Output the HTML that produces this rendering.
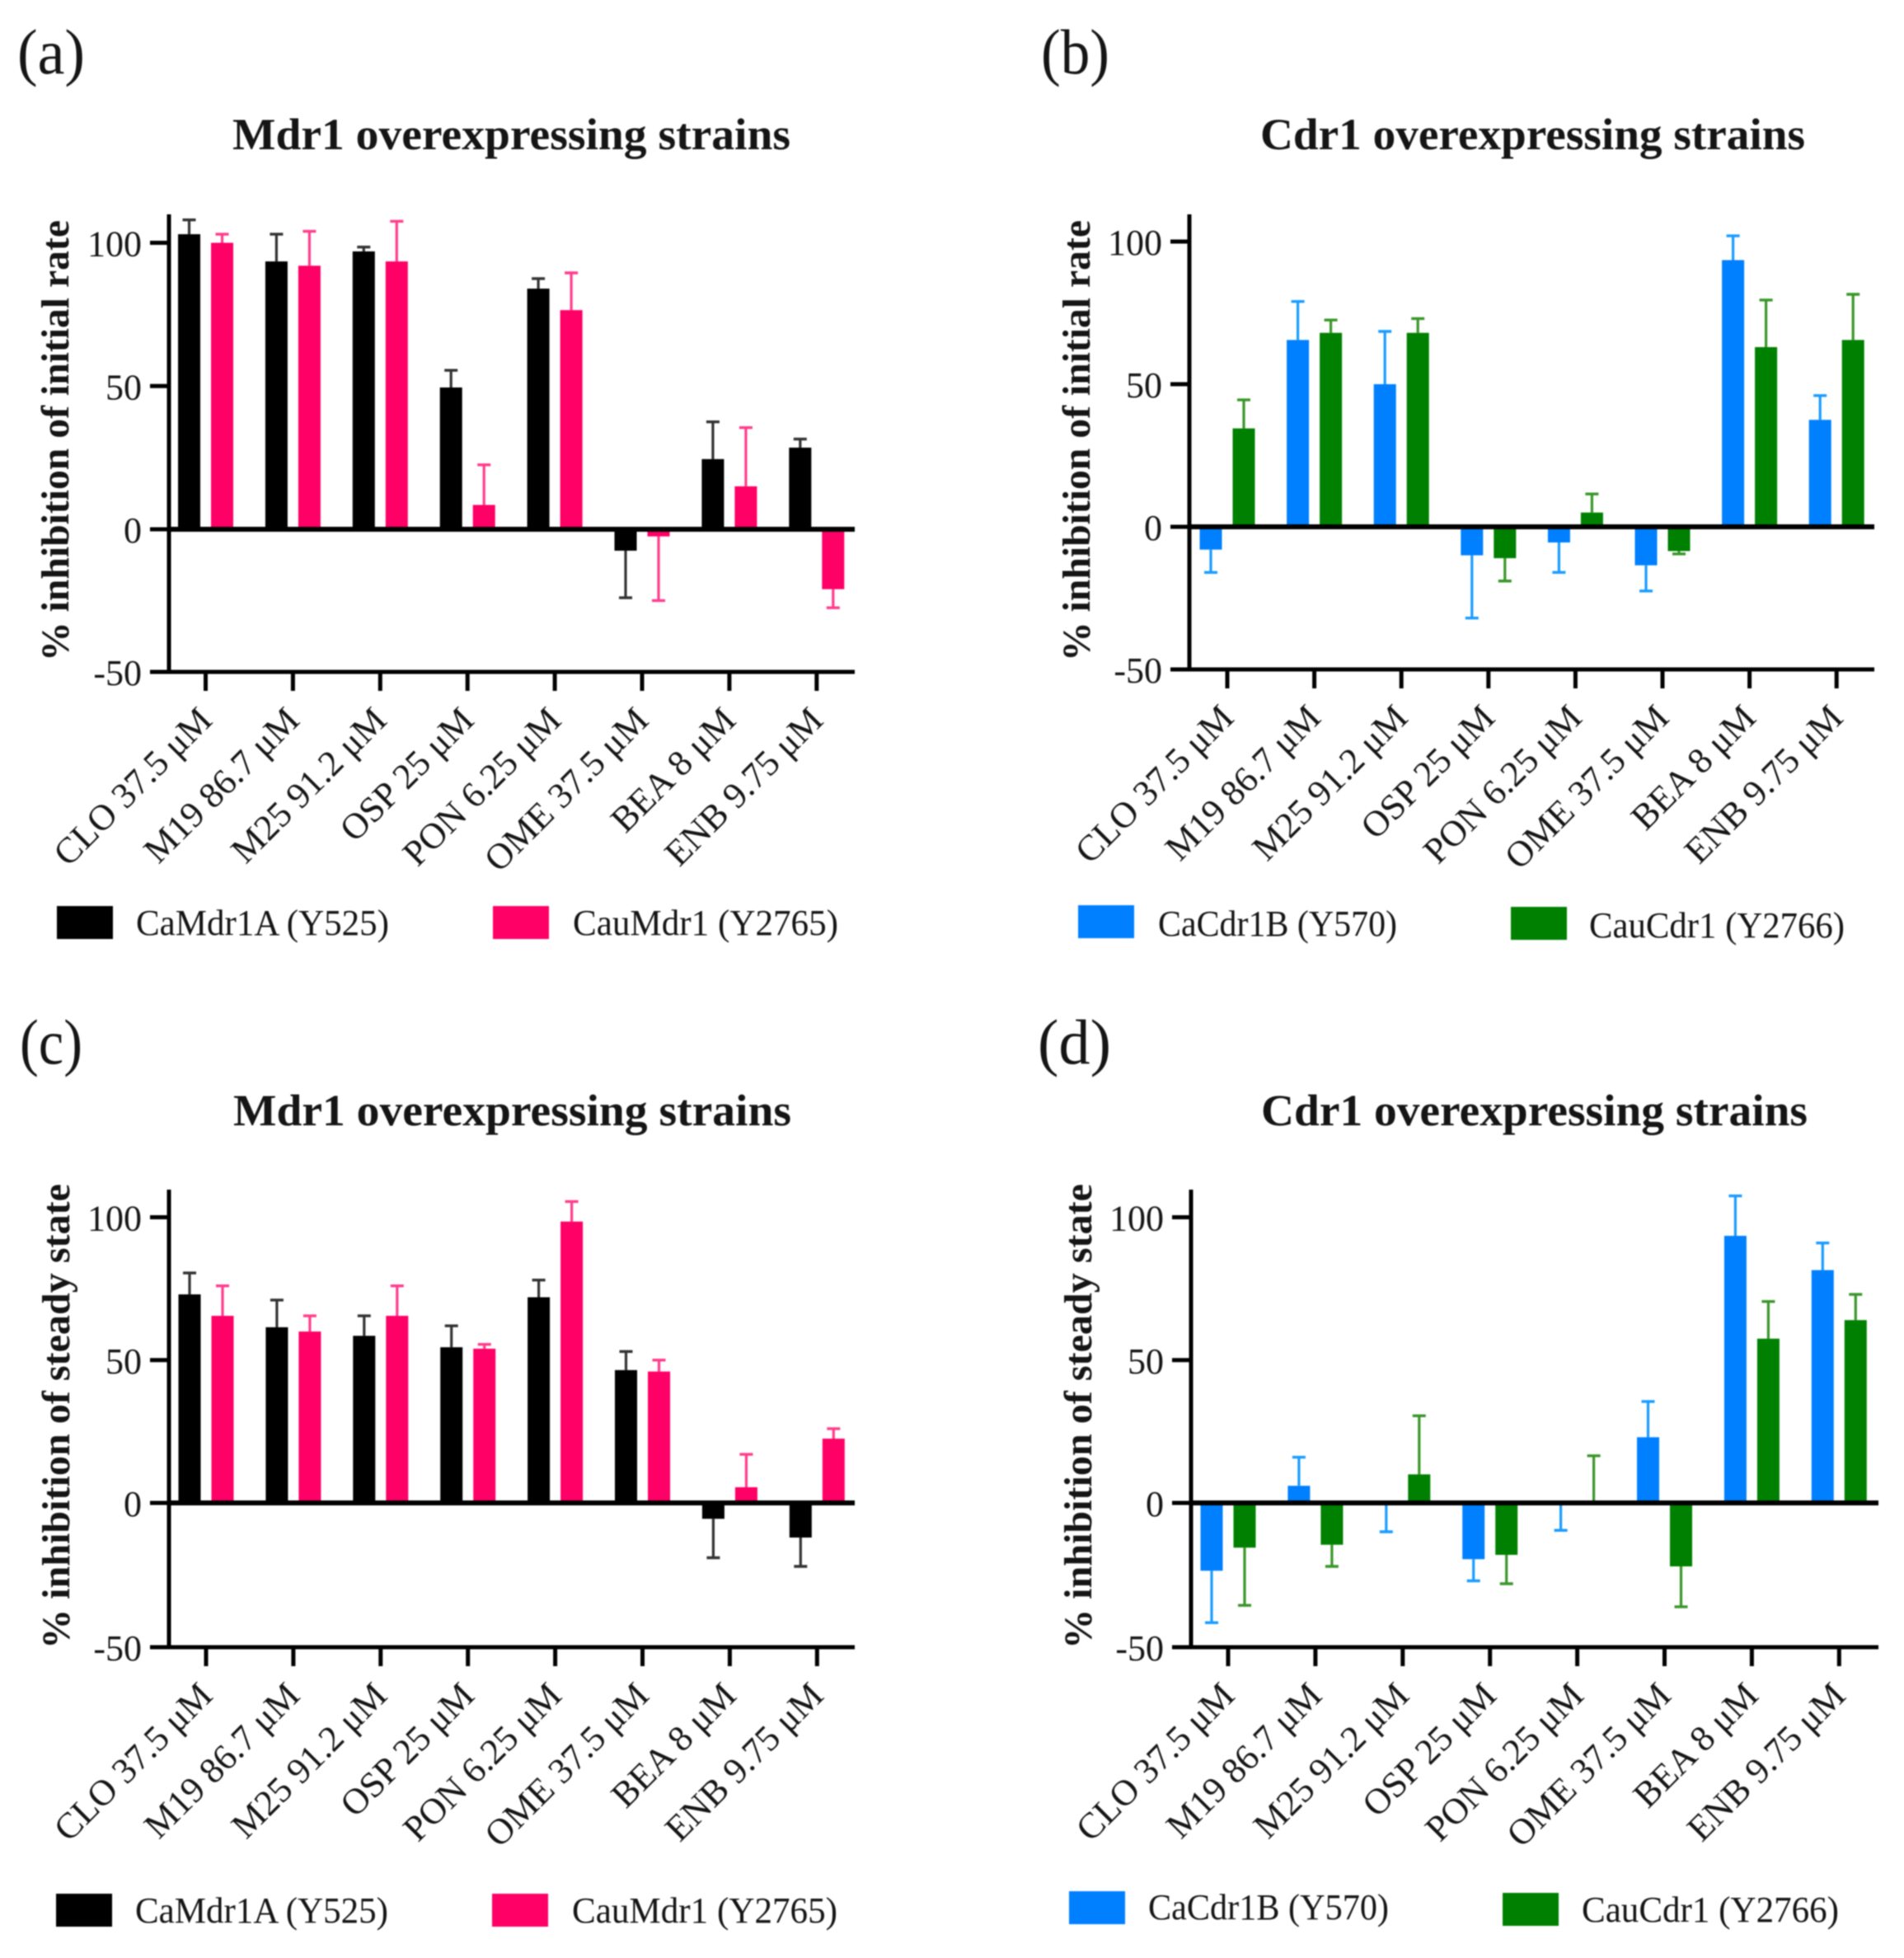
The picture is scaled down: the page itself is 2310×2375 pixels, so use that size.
<!DOCTYPE html>
<html lang="en">
<head>
<meta charset="utf-8">
<title>Inhibition of Mdr1 and Cdr1 overexpressing strains</title>
<style>
html,body{margin:0;padding:0;background:#fff;width:2310px;height:2375px;overflow:hidden}
svg{display:block;filter:blur(0.7px)}
text{font-family:"Liberation Serif","DejaVu Serif",serif;fill:#151515}
</style>
</head>
<body>
<svg id="figure" xmlns="http://www.w3.org/2000/svg" width="2310" height="2375" viewBox="0 0 2310 2375"></svg>
<script>
const categories = ["CLO 37.5 μM","M19 86.7 μM","M25 91.2 μM","OSP 25 μM","PON 6.25 μM","OME 37.5 μM","BEA 8 μM","ENB 9.75 μM"];
const yTickValues = [100,50,0,-50];

const aMdr1A = [103,93.5,97,49.5,84,-7.5,24.5,28.5];
const aMdr1AErr = [108,103,98.5,55.5,87.5,-24,37.5,31.5];
const aCauMdr1 = [100,92,93.5,8.5,76.5,-2.5,15,-21];
const aCauMdr1Err = [103,104,107.5,22.5,89.5,-25,35.5,-27.5];

const bCdr1B = [-8,65.5,50,-10,-5.5,-13.5,93.5,37.5];
const bCdr1BErr = [-16,79,68.5,-32,-16,-22.5,102,46];
const bCauCdr1 = [34.5,68,68,-11,5,-8.5,63,65.5];
const bCauCdr1Err = [44.5,72.5,73,-19,11.5,-9.5,79.5,81.5];

const cMdr1A = [73,61.5,58.5,54.5,72,46.5,-5.5,-12];
const cMdr1AErr = [80.5,71,65.5,62,78,53,-19,-22];
const cCauMdr1 = [65.5,60,65.5,54,98.5,46,5.5,22.5];
const cCauMdr1Err = [76,65.5,76,55.5,105.5,50,17,26];

const dCdr1B = [-23.5,6,-0.5,-19.5,-0.5,23,93.5,81.5];
const dCdr1BErr = [-41.5,16,-10,-27,-9.5,35.5,107.5,91];
const dCauCdr1 = [-15.5,-14.5,10,-18,0,-22,57.5,64];
const dCauCdr1Err = [-35.5,-22,30.5,-28,16.5,-36,70.5,73];

const BLACK = {bar:"#000000",err:"#333333"};
const PINK = {bar:"#ff0066",err:"#ff3d8c"};
const BLUE = {bar:"#0080ff",err:"#1a9cff"};
const GREEN = {bar:"#008000",err:"#3a962a"};

const panels = [
 {id:"a",letter:"(a)",lx:21,lw:82,lb:89,title:"Mdr1 overexpressing strains",tx:282,tw:677,tb:181,
  ytitle:"% inhibition of initial rate",ytb:83,ytBottom:802,ytLen:535,
  axisX:205,axisTop:260,axisRight:1037,y100:294.5,y0:642,yMin:815,tick0:249.5,tickStep:105.9,
  s1:{name:"CaMdr1A (Y525)",vals:aMdr1A,errs:aMdr1AErr,col:BLACK,sx:69,sy:1099,tx:165,tw:307,tb:1134},
  s2:{name:"CauMdr1 (Y2765)",vals:aCauMdr1,errs:aCauMdr1Err,col:PINK,sx:598,sy:1099,tx:695,tw:322,tb:1134}},
 {id:"b",letter:"(b)",lx:1263,lw:83,lb:89,title:"Cdr1 overexpressing strains",tx:1529,tw:661,tb:181,
  ytitle:"% inhibition of initial rate",ytb:1322,ytBottom:802,ytLen:535,
  axisX:1443,axisTop:260,axisRight:2274,y100:293,y0:639,yMin:812,tick0:1489,tickStep:105.6,
  s1:{name:"CaCdr1B (Y570)",vals:bCdr1B,errs:bCdr1BErr,col:BLUE,sx:1308,sy:1098,tx:1405,tw:290,tb:1135},
  s2:{name:"CauCdr1 (Y2766)",vals:bCauCdr1,errs:bCauCdr1Err,col:GREEN,sx:1833,sy:1100,tx:1928,tw:310,tb:1137}},
 {id:"c",letter:"(c)",lx:24,lw:76,lb:1290,title:"Mdr1 overexpressing strains",tx:283,tw:677,tb:1365,
  ytitle:"% inhibition of steady state",ytb:84,ytBottom:2000,ytLen:564,
  axisX:205,axisTop:1443,axisRight:1037,y100:1476.5,y0:1823,yMin:1998,tick0:250,tickStep:105.9,
  s1:{name:"CaMdr1A (Y525)",vals:cMdr1A,errs:cMdr1AErr,col:BLACK,sx:68,sy:2297,tx:164,tw:307,tb:2332},
  s2:{name:"CauMdr1 (Y2765)",vals:cCauMdr1,errs:cCauMdr1Err,col:PINK,sx:597,sy:2297,tx:694,tw:322,tb:2332}},
 {id:"d",letter:"(d)",lx:1259,lw:89,lb:1290,title:"Cdr1 overexpressing strains",tx:1530,tw:663,tb:1365,
  ytitle:"% inhibition of steady state",ytb:1324,ytBottom:2000,ytLen:564,
  axisX:1445,axisTop:1443,axisRight:2279,y100:1476.5,y0:1823,yMin:1998,tick0:1490,tickStep:105.9,
  s1:{name:"CaCdr1B (Y570)",vals:dCdr1B,errs:dCdr1BErr,col:BLUE,sx:1297,sy:2294,tx:1393,tw:292,tb:2328},
  s2:{name:"CauCdr1 (Y2766)",vals:dCauCdr1,errs:dCauCdr1Err,col:GREEN,sx:1823,sy:2296,tx:1919,tw:312,tb:2331}}
];

const NS = "http://www.w3.org/2000/svg";
const root = document.getElementById("figure");

function make(parent, tag, attrs, content){
  const el = document.createElementNS(NS, tag);
  for (const k in attrs) el.setAttribute(k, attrs[k]);
  if (content !== undefined) el.textContent = content;
  parent.appendChild(el);
  return el;
}

function drawSeries(group, p, s, offset, xOf, yOf, label){
  s.vals.forEach(function(v, i){
    const cx = xOf(i) + offset;
    const e = s.errs[i];
    const stem = make(group, "line", {x1:cx,x2:cx,y1:yOf(v),y2:yOf(e),stroke:s.col.err,"stroke-width":3.2});
    
    
    const cap = make(group, "line", {x1:cx-8,x2:cx+8,y1:yOf(e),y2:yOf(e),stroke:s.col.err,"stroke-width":3.4});
    
    
    const top = Math.min(yOf(v), yOf(0));
    const h = Math.abs(yOf(v) - yOf(0));
    const bar = make(group, "rect", {x:cx-13.5,y:top,width:27,height:h,fill:s.col.bar});
    
    
  });
}

function drawLegend(group, s, label){
  const swatch = make(group, "rect", {x:s.sx,y:s.sy,width:68,height:40,fill:s.col.bar});
  
  
  const txt = make(group, "text", {x:s.tx,y:s.tb,"font-size":44,textLength:s.tw,lengthAdjust:"spacingAndGlyphs"}, s.name);
  
  
}

function drawPanel(p){
  const g = make(root, "g", {});
  
  

  const scale = (p.y0 - p.y100) / 100;
  const scaleNeg = (p.yMin - p.y0) / 50;
  const yOf = function(v){ return v >= 0 ? p.y0 - v * scale : p.y0 - v * scaleNeg; };
  const xOf = function(i){ return p.tick0 + i * p.tickStep; };

  const letter = make(g, "text", {x:p.lx,y:p.lb,"font-size":77,textLength:p.lw,lengthAdjust:"spacingAndGlyphs",fill:"#222"}, p.letter);
  
  

  const title = make(g, "text", {x:p.tx,y:p.tb,"font-size":54,"font-weight":"bold",textLength:p.tw,lengthAdjust:"spacingAndGlyphs"}, p.title);
  
  

  const yTitle = make(g, "text", {transform:"translate(" + p.ytb + "," + p.ytBottom + ") rotate(-90)","font-size":48,"font-weight":"bold",textLength:p.ytLen,lengthAdjust:"spacingAndGlyphs"}, p.ytitle);
  
  

  drawSeries(g, p, p.s1, -20, xOf, yOf, p.id + '-series1');
  drawSeries(g, p, p.s2, 20, xOf, yOf, p.id + '-series2');

  yTickValues.forEach(function(t){
    const tick = make(g, "line", {x1:p.axisX-23,x2:p.axisX,y1:yOf(t),y2:yOf(t),stroke:"#000","stroke-width":5});
    
    
    const lab = make(g, "text", {x:p.axisX-33,y:yOf(t)+16,"font-size":44,"text-anchor":"end"}, String(t));
    
    
  });

  const yAxis = make(g, "line", {x1:p.axisX,x2:p.axisX,y1:p.axisTop,y2:p.yMin+2,stroke:"#000","stroke-width":5});
  
  
  const xAxis = make(g, "line", {x1:p.axisX,x2:p.axisRight,y1:p.yMin,y2:p.yMin,stroke:"#000","stroke-width":5});
  
  
  const zero = make(g, "line", {x1:p.axisX,x2:p.axisRight,y1:p.y0,y2:p.y0,stroke:"#000","stroke-width":6});
  
  

  categories.forEach(function(c, i){
    const x = xOf(i);
    const tick = make(g, "line", {x1:x,x2:x,y1:p.yMin,y2:p.yMin+23,stroke:"#000","stroke-width":5});
    
    
    const lab = make(g, "text", {transform:"translate(" + (x+10) + "," + (p.yMin+61) + ") rotate(-45)","font-size":44,"text-anchor":"end",fill:"#222"}, c);
    
    
  });

  drawLegend(g, p.s1, p.id + '-series1');
  drawLegend(g, p.s2, p.id + '-series2');
}

panels.forEach(drawPanel);
</script>
</body>
</html>
